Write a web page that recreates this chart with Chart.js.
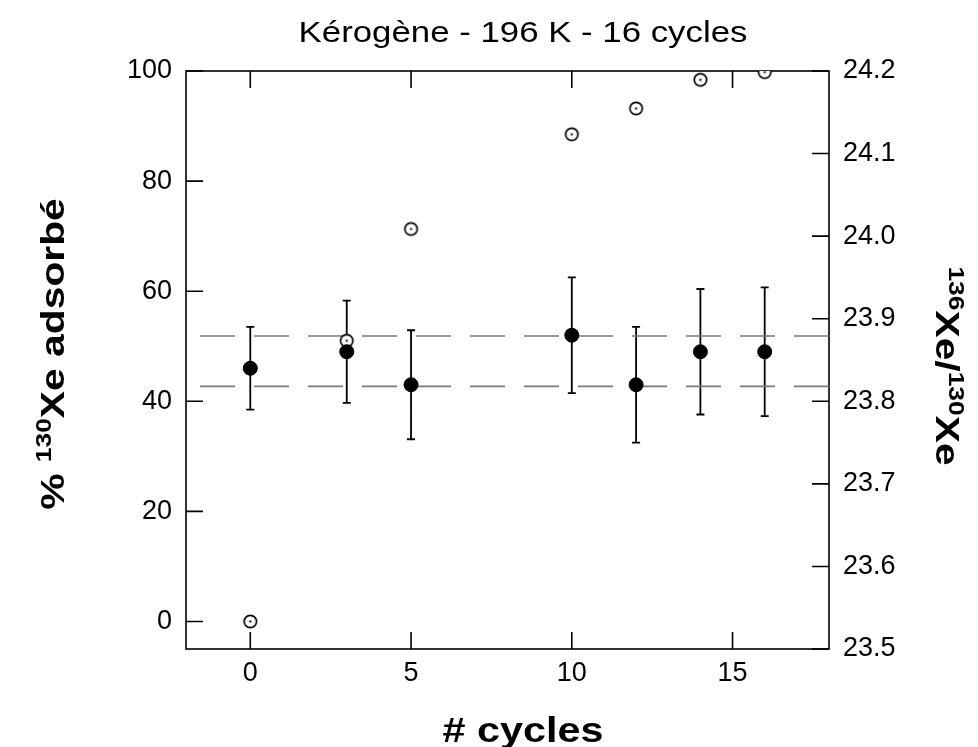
<!DOCTYPE html>
<html>
<head>
<meta charset="utf-8">
<script src="https://cdn.jsdelivr.net/npm/chart.js@4.4.0/dist/chart.umd.min.js"></script>
<style>
  body { margin: 0; background: #fff; }
  #wrap { width: 978px; height: 747px; }
</style>
</head>
<body>
<div id="wrap"><canvas id="myChart" width="978" height="747"></canvas></div>
<script>
// data
const cycles = [0, 3, 5, 10, 12, 14, 16];
const adsorbed = [0, 51, 71.3, 88.5, 93.2, 98.4, 99.8]; // % 130Xe adsorbé (left axis)
const ratio = [23.84, 23.86, 23.82, 23.88, 23.82, 23.86, 23.86]; // 136Xe/130Xe (right axis)
const ratioErr = [0.05, 0.062, 0.066, 0.07, 0.07, 0.076, 0.078];
const refLines = [23.879, 23.818];
const xTicks = [0, 5, 10, 15];
const yLeftTicks = [0, 20, 40, 60, 80, 100];
const yRightTicks = [23.5, 23.6, 23.7, 23.8, 23.9, 24.0, 24.1, 24.2];

const FONT = "'Liberation Sans', Arial, Helvetica, sans-serif";

// hollow circle with a dot in the middle
function dotCircle() {
  const c = document.createElement("canvas");
  c.width = 17;
  c.height = 17;
  const g = c.getContext("2d");
  g.fillStyle = "#fff";
  g.strokeStyle = "#000";
  g.lineWidth = 1.7;
  g.beginPath();
  g.arc(8.5, 8.5, 6.2, 0, Math.PI * 2);
  g.fill();
  g.stroke();
  g.fillStyle = "#000";
  g.fillRect(7.5, 7.5, 2, 2);
  return c;
}

function setTicks(list) {
  return (scale) => {
    scale.ticks = list.map((v) => ({ value: v }));
  };
}

// the original lettering is a bit wider than Arial, stretch it along the line
function wideText(ctx, text, x, y, font, stretch) {
  ctx.save();
  ctx.font = font;
  ctx.translate(x, y);
  ctx.scale(stretch, 1);
  ctx.textAlign = "center";
  ctx.fillText(text, 0, 0);
  ctx.restore();
}

const framePlugin = {
  id: "frame",
  beforeDatasetsDraw(chart) {
    const { ctx, chartArea: a, scales } = chart;
    ctx.save();
    ctx.strokeStyle = "#000";
    ctx.lineWidth = 1.6;
    ctx.strokeRect(a.left, a.top, a.right - a.left, a.bottom - a.top);
    ctx.beginPath();
    const len = 17;
    xTicks.forEach((v) => {
      const px = scales.x.getPixelForValue(v);
      ctx.moveTo(px, a.bottom);
      ctx.lineTo(px, a.bottom - len);
      ctx.moveTo(px, a.top);
      ctx.lineTo(px, a.top + len);
    });
    yLeftTicks.forEach((v) => {
      const py = scales.y.getPixelForValue(v);
      ctx.moveTo(a.left, py);
      ctx.lineTo(a.left + len, py);
    });
    yRightTicks.forEach((v) => {
      const py = scales.y2.getPixelForValue(v);
      ctx.moveTo(a.right, py);
      ctx.lineTo(a.right - len, py);
    });
    ctx.stroke();

    // error bars on the ratio series
    ctx.lineWidth = 1.8;
    ctx.beginPath();
    cycles.forEach((c, i) => {
      const px = scales.x.getPixelForValue(c);
      const top = scales.y2.getPixelForValue(ratio[i] + ratioErr[i]);
      const bot = scales.y2.getPixelForValue(ratio[i] - ratioErr[i]);
      ctx.moveTo(px, top);
      ctx.lineTo(px, bot);
      ctx.moveTo(px - 4, top);
      ctx.lineTo(px + 4, top);
      ctx.moveTo(px - 4, bot);
      ctx.lineTo(px + 4, bot);
    });
    ctx.stroke();
    ctx.restore();
  },
  afterDraw(chart) {
    const { ctx, chartArea: a } = chart;
    ctx.save();
    ctx.fillStyle = "#000";
    ctx.textBaseline = "alphabetic";

    wideText(ctx, "Kérogène - 196 K - 16 cycles", 523, 42, "30px " + FONT, 1.16);
    wideText(ctx, "# cycles", 523, 742, "bold 35px " + FONT, 1.18);

    const cy = (a.top + a.bottom) / 2;
    drawRich(ctx, [["% ", false], ["130", true], ["Xe adsorbé", false]], 64, cy - 6, -Math.PI / 2, 1.2);
    drawRich(ctx, [["136", true], ["Xe/", false], ["130", true], ["Xe", false]], 936, cy + 6, Math.PI / 2, 1.2);
    ctx.restore();
  },
};

function drawRich(ctx, parts, x, y, rot, stretch) {
  const big = "bold 34px " + FONT;
  const small = "bold 22px " + FONT;
  let w = 0;
  parts.forEach(([t, sup]) => {
    ctx.font = sup ? small : big;
    w += ctx.measureText(t).width;
  });
  ctx.save();
  ctx.translate(x, y);
  ctx.rotate(rot);
  ctx.scale(stretch, 1);
  ctx.textAlign = "left";
  let cx = -w / 2;
  parts.forEach(([t, sup]) => {
    ctx.font = sup ? small : big;
    ctx.fillText(t, cx, sup ? -13 : 0);
    cx += ctx.measureText(t).width;
  });
  ctx.restore();
}

const tickFont = { family: FONT, size: 27 };

new Chart(document.getElementById("myChart"), {
  type: "scatter",
  data: {
    datasets: [
      {
        label: "ratio",
        data: cycles.map((c, i) => ({ x: c, y: ratio[i] })),
        yAxisID: "y2",
        pointRadius: 7,
        pointBackgroundColor: "#000",
        pointBorderColor: "#000",
        order: 0,
      },
      {
        label: "adsorbed",
        data: cycles.map((c, i) => ({ x: c, y: adsorbed[i] })),
        yAxisID: "y",
        pointStyle: dotCircle(),
        order: 1,
      },
      ...refLines.map((v) => ({
        label: "ref",
        data: [
          { x: -2, y: v },
          { x: 18, y: v },
        ],
        yAxisID: "y2",
        showLine: true,
        borderColor: "#7a7a7a",
        borderWidth: 1.6,
        borderDash: [35, 19],
        borderDashOffset: 40,
        pointRadius: 0,
        order: 2,
      })),
    ],
  },
  options: {
    responsive: false,
    animation: false,
    layout: { padding: { top: 71, left: 0, right: 0, bottom: 0 } },
    plugins: {
      legend: { display: false },
      tooltip: { enabled: false },
      title: { display: false },
    },
    scales: {
      x: {
        type: "linear",
        min: -2,
        max: 18,
        afterBuildTicks: setTicks(xTicks),
        afterFit: (s) => { s.height = 98; },
        grid: { display: false, drawTicks: false },
        border: { display: false },
        ticks: { font: tickFont, color: "#000", padding: 8 },
      },
      y: {
        type: "linear",
        position: "left",
        min: -5,
        max: 100,
        afterBuildTicks: setTicks(yLeftTicks),
        afterFit: (s) => { s.width = 186; },
        grid: { display: false, drawTicks: false },
        border: { display: false },
        ticks: { font: tickFont, color: "#000", padding: 14 },
      },
      y2: {
        type: "linear",
        position: "right",
        min: 23.5,
        max: 24.2,
        afterBuildTicks: setTicks(yRightTicks),
        afterFit: (s) => { s.width = 149; },
        grid: { display: false, drawTicks: false },
        border: { display: false },
        ticks: {
          font: tickFont,
          color: "#000",
          padding: 14,
          callback: (v) => v.toFixed(1),
        },
      },
    },
  },
  plugins: [framePlugin],
});
</script>
</body>
</html>
